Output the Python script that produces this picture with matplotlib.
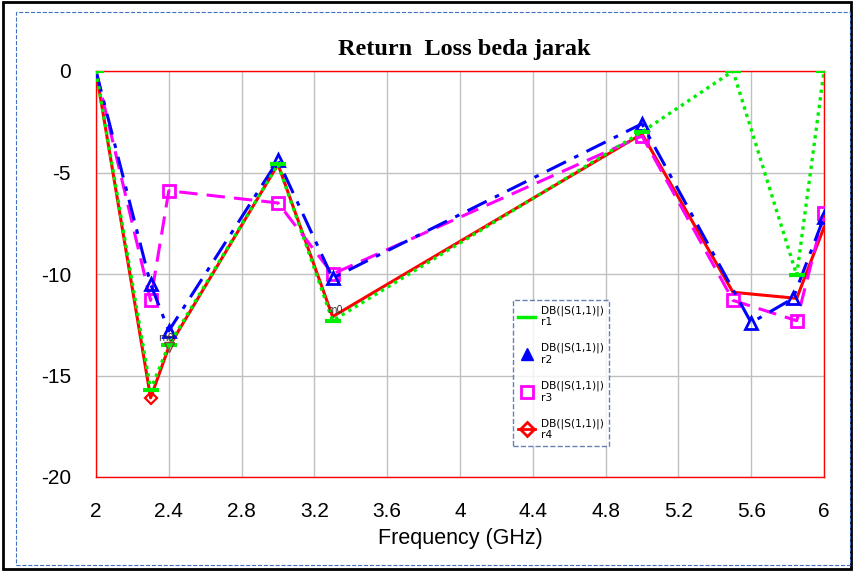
import matplotlib
matplotlib.use("Agg")
import matplotlib.pyplot as plt
from matplotlib.lines import Line2D
from matplotlib.patches import Rectangle

plt.rcParams["axes.unicode_minus"] = False

# Data
freq_r1 = [2.0, 2.3, 2.4, 3.0, 3.3, 5.0, 5.5, 5.85, 6.0]
db_r1 = [0.0, -15.7, -13.5, -4.6, -12.3, -3.0, 0.0, -10.05, 0.0]

freq_r2 = [2.0, 2.3, 2.4, 3.0, 3.3, 5.0, 5.6, 5.83, 6.0]
db_r2 = [0.0, -10.5, -12.8, -4.4, -10.2, -2.6, -12.4, -11.2, -7.2]

freq_r3 = [2.0, 2.3, 2.4, 3.0, 3.3, 5.0, 5.5, 5.85, 6.0]
db_r3 = [0.0, -11.3, -5.9, -6.5, -10.0, -3.2, -11.3, -12.3, -7.0]

freq_r4 = [2.0, 2.3, 2.4, 3.0, 3.3, 5.0, 5.5, 5.85, 6.0]
db_r4 = [0.0, -16.1, -13.6, -4.6, -12.1, -3.1, -10.9, -11.2, -7.7]

xticks = [2, 2.4, 2.8, 3.2, 3.6, 4, 4.4, 4.8, 5.2, 5.6, 6]
xtick_labels = ["2", "2.4", "2.8", "3.2", "3.6", "4", "4.4", "4.8", "5.2", "5.6", "6"]
yticks = [0, -5, -10, -15, -20]

fig = plt.figure(figsize=(8.54, 5.71), dpi=100)
ax = fig.add_axes([96/854, 1-477/571, 728/854, 406/571])

ax.plot(freq_r4, db_r4, color="#ff0000", lw=2.2, ls="-", marker="D", ms=6,
        mfc="none", mec="#ff0000", mew=1.6, markevery=[1], zorder=3)
ax.plot(freq_r3, db_r3, color="#ff00ff", lw=2.2, ls=(0, (6, 3)), marker="s", ms=9,
        mfc="none", mec="#ff00ff", mew=2, markevery=list(range(1, 9)), zorder=4)
ax.plot(freq_r2, db_r2, color="#0000ff", lw=2.2, ls=(0, (7, 3, 1.5, 3)), marker="^", ms=9,
        mfc="none", mec="#0000ff", mew=2, markevery=list(range(1, 9)), zorder=5)
ax.plot(freq_r1, db_r1, color="#00ee00", lw=2.4, ls=(0, (1, 1.3)), marker="_", ms=12,
        mec="#00ee00", mew=3, zorder=6)

# marker labels
ax.plot([2.4], [-13.6], marker="v", ms=7, mfc="none", mec="#884444", mew=1, zorder=7)
ax.text(2.34, -13.3, "m0", fontsize=7, color="#333333", zorder=8)
ax.text(3.27, -11.9, "m0", fontsize=7, color="#333333", zorder=8)

ax.set_xlim(2, 6)
ax.set_ylim(-20, 0)
ax.set_xticks(xticks)
ax.set_xticklabels(xtick_labels)
ax.set_yticks(yticks)
ax.tick_params(axis="x", length=0, labelsize=15, pad=18)
ax.tick_params(axis="y", length=0, labelsize=15, pad=18)
for lab in ax.get_xticklabels() + ax.get_yticklabels():
    lab.set_family("Liberation Sans")
ax.grid(True, color="#c0c0c0", lw=1)
ax.set_axisbelow(True)
for s in ax.spines.values():
    s.set_color("#ff0000")
    s.set_linewidth(1)

ax.set_xlabel("Frequency (GHz)", fontsize=15.5, family="Liberation Sans", labelpad=5)
fig.text(0.5 * (96 + 824) / 854 + 0.005, 1 - 50/571, "Return  Loss beda jarak", ha="center", va="center",
         fontsize=17.5, fontweight="bold", family="Liberation Serif")

# legend
handles = [
    Line2D([], [], color="#00ee00", lw=2.5),
    Line2D([], [], color="#0000ff", lw=0, marker="^", ms=8, mfc="#0000ff", mec="#0000ff"),
    Line2D([], [], color="#ff00ff", lw=0, marker="s", ms=8, mfc="none", mec="#ff00ff", mew=2),
    Line2D([], [], color="#ff0000", lw=2, marker="D", ms=7, mfc="none", mec="#ff0000", mew=2),
]
labels = ["DB(|S(1,1)|)\nr1", "DB(|S(1,1)|)\nr2", "DB(|S(1,1)|)\nr3", "DB(|S(1,1)|)\nr4"]
leg = ax.legend(handles, labels, loc="upper left", bbox_to_anchor=((513-96)/728, (477-300)/406),
                fontsize=7.7, frameon=True, fancybox=False, edgecolor="#4060a0",
                handlelength=1.6, handletextpad=0.5, labelspacing=1.45, borderpad=0.5,
                borderaxespad=0)
leg.get_frame().set_linestyle("--")
leg.get_frame().set_linewidth(1)
leg.set_zorder(10)

# figure frame
fig.patches.append(Rectangle((0.004, 0.004), 0.992, 0.992, transform=fig.transFigure,
                             fill=False, ec="black", lw=2))
fig.patches.append(Rectangle((16/854, 0.01), 1 - 20/854, 1 - 12/571 - 0.01, transform=fig.transFigure,
                             fill=False, ec="#4070c0", lw=0.8, ls="--"))

fig.savefig("out.png", dpi=100)
